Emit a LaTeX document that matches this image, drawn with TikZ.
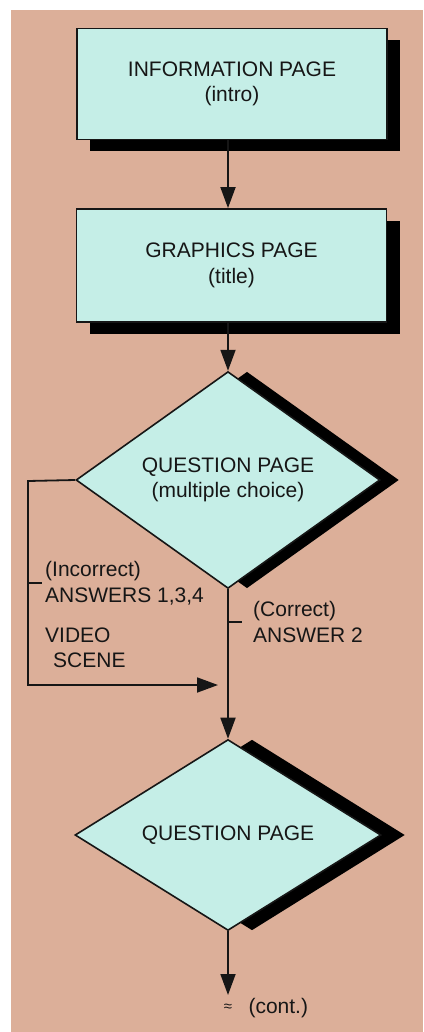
\documentclass[tikz,border=0pt]{standalone}
\usepackage{fontspec}
\setmainfont{Liberation Sans}
\usetikzlibrary{
  arrows.meta, % For arrow tips
  shapes.geometric, % For the diamonds
  shadows % For the black offset shadows
}
\definecolor{paper}{RGB}{220,175,153}
\definecolor{screen}{RGB}{197,238,231}
\definecolor{ink}{RGB}{22,22,22}

\begin{document}
\begin{tikzpicture}[
    x=1pt, y=-1pt, % pixel-like coordinates, y downwards
    >={Triangle[length=21pt, width=15pt]}, % Default arrow tip
    every node/.style={font=\fontsize{21}{25.5}\selectfont, text=ink},
    pagebox/.style={rectangle, draw=ink, line width=1.8pt, fill=screen,
      minimum width=310pt, minimum height=111pt, align=center,
      drop shadow={shadow xshift=13pt, shadow yshift=-12pt, fill=black, opacity=1}},
    askbox/.style={diamond, draw=ink, line width=1.6pt, fill=screen,
      inner sep=0pt, minimum width=304pt, minimum height=190pt, align=center},
    flow/.style={draw=ink, line width=1.8pt, ->}, % Style for flow arrows
    pointer/.style={draw=ink, line width=1.6pt}, % Style for label ticks
    note/.style={anchor=west, align=left, inner sep=3pt},
  ]

  % Hintergrund
  \fill[white] (0,0) rectangle (423,1032);
  \fill[paper] (11,10) rectangle (423,1032);
  \useasboundingbox (0,0) rectangle (423,1032);

  % Seiten
  \node[pagebox] (info) at (232,84) {INFORMATION PAGE\\(intro)};
  \node[pagebox, minimum height=113pt] (graphics) at (231.5,265.5) {GRAPHICS PAGE\\(title)};
  \node[askbox, drop shadow={shadow xshift=19pt, shadow yshift=0pt, fill=black, opacity=1}]
    (choice) at (228,480) {QUESTION PAGE\\(multiple choice)};
  \node[askbox, minimum width=306pt, minimum height=187pt,
    drop shadow={shadow xshift=24pt, shadow yshift=0pt, fill=black, opacity=1}]
    (next) at (228,835) {QUESTION PAGE};

  % Koordinaten
  \coordinate (wrongturn) at (28,481);
  \coordinate (videoend) at (218,685);
  \coordinate (wrongtick) at (28,583);
  \coordinate (righttick) at (228,622);
  \coordinate (cont) at (228,995);

  % Pfeile
  \draw[flow] (info.south -| choice.north) -- (graphics.north -| choice.north);
  \draw[flow] (graphics.south -| choice.north) -- (choice.north);
  \draw[flow] (choice.south) -- (next.north);
  \draw[flow] (next.south) -- (cont);
  \draw[flow] (choice.west) -- (wrongturn) |- (videoend);

  % Beschriftungen
  \node[note] (incorrect) at (42,583) {(Incorrect)\\ANSWERS 1,3,4};
  \node[note] (video) at (42,648) {VIDEO\\\hspace*{8pt}SCENE};
  \node[note] (correct) at (250,622) {(Correct)\\ANSWER 2};
  \draw[pointer] (wrongtick) -- (incorrect.west);
  \draw[pointer] (righttick) -- ([xshift=-8pt]correct.west);

  \node[font=\fontsize{15}{18}\selectfont] (approx) at (228,1008) {≈};
  \node[anchor=west] (conttext) at (245,1008) {(cont.)};
\end{tikzpicture}
\end{document}
